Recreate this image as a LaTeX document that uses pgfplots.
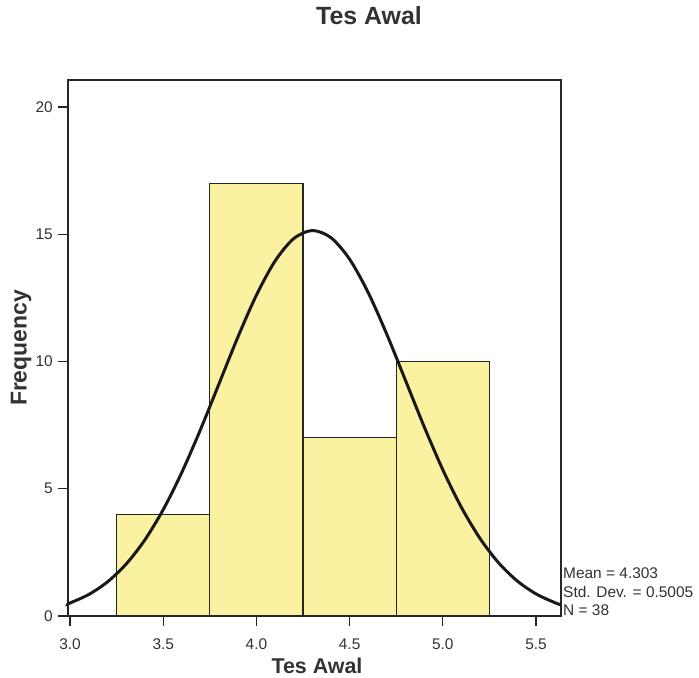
\documentclass[border=0pt]{standalone}
\usepackage{pgfplots}
\pgfplotsset{compat=1.18}
\usepackage{fontspec}
\setmainfont{Liberation Sans}
\definecolor{barcol}{RGB}{250,242,160}
\definecolor{txt}{RGB}{50,50,50}
\begin{document}
\begin{tikzpicture}[x=1bp,y=1bp]
\path[use as bounding box] (0,0) rectangle (699,678);
\begin{axis}[
  at={(68bp,62bp)}, anchor=south west,
  scale only axis, width=493bp, height=536bp,
  xmin=2.989, xmax=5.634, ymin=0, ymax=21.06,
  axis line style={line width=1.3pt, color=black!85},
  xtick={3.0,3.5,4.0,4.5,5.0,5.5},
  ytick={0,5,10,15,20},
  tick align=outside, tick pos=left,
  major tick length=10bp,
  tick style={line width=1.3pt, color=black!85},
  xticklabel style={/pgf/number format/fixed, /pgf/number format/fixed zerofill, /pgf/number format/precision=1, yshift=-9bp},
  /pgf/number format/assume math mode=true,
  ticklabel style={font=\fontsize{15.5}{18}\selectfont, text=txt},
  yticklabel style={xshift=-3bp, inner sep=2bp},
  clip=false,
]
\addplot[ybar interval, fill=barcol, draw=black!85, line width=1.2pt]
  coordinates {(3.25,4) (3.75,17) (4.25,7) (4.75,10) (5.25,10)};
\addplot[smooth, black!90, line width=3pt] coordinates {
(2.989,0.483) (3.0,0.511) (3.1,0.843) (3.2,1.336) (3.3,2.033) (3.4,2.975)
(3.5,4.181) (3.6,5.647) (3.7,7.329) (3.8,9.140) (3.9,10.952) (4.0,12.609)
(4.1,13.949) (4.2,14.828) (4.3,15.145) (4.4,14.863) (4.5,14.016) (4.6,12.700)
(4.7,11.058) (4.8,9.250) (4.9,7.435) (5.0,5.743) (5.1,4.262) (5.2,3.040)
(5.3,2.082) (5.4,1.371) (5.5,0.868) (5.6,0.527) (5.634,0.441)};
\end{axis}
\node[font=\fontsize{25}{28}\bfseries\selectfont, text=txt, anchor=base, inner sep=0pt] at (369,653) {Tes Awal};
\node[font=\fontsize{21.5}{24}\bfseries\selectfont, text=txt, anchor=base, inner sep=0pt] at (317,4) {Tes Awal};
\node[font=\fontsize{23}{26}\bfseries\selectfont, text=txt, rotate=90] at (21,330) {Frequency};
\node[font=\fontsize{15.5}{18.5}\selectfont, text=txt, anchor=west, align=left, inner sep=0pt] at (563,86) {Mean = 4.303\\Std. Dev. = 0.5005\\N = 38};
\end{tikzpicture}
\end{document}
